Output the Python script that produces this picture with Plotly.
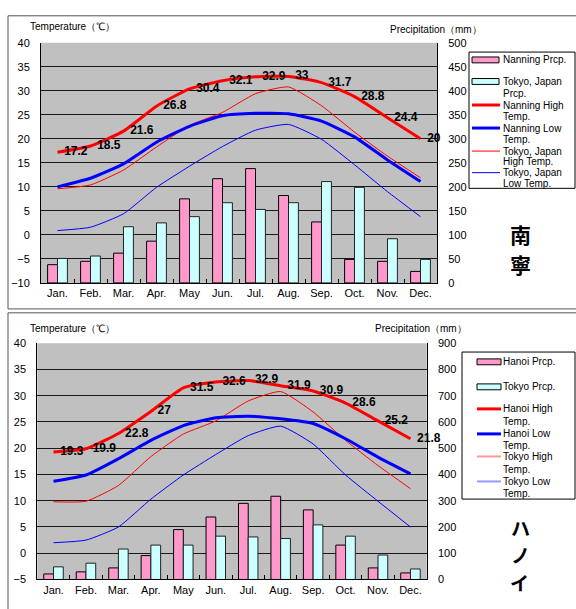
import plotly.graph_objects as go

W, H = 576, 609

months = ["Jan.", "Feb.", "Mar.", "Apr.", "May", "Jun.", "Jul.", "Aug.", "Sep.", "Oct.", "Nov.", "Dec."]

# Panel 1: Nanning vs Tokyo
nanning_high = [17.2, 18.5, 21.6, 26.8, 30.4, 32.1, 32.9, 33.0, 31.7, 28.8, 24.4, 20.0]
nanning_low = [10.0, 11.8, 14.8, 19.3, 22.6, 24.8, 25.3, 25.2, 23.7, 20.4, 15.6, 11.1]
tokyo_high_1 = [9.6, 10.4, 13.5, 18.3, 22.8, 25.5, 29.4, 30.8, 26.9, 21.4, 16.4, 11.9]
tokyo_low_1 = [0.9, 1.6, 4.4, 9.9, 14.3, 18.4, 21.8, 23.0, 19.9, 14.6, 9.0, 3.8]
nanning_prcp = [38, 45, 62, 87, 175, 217, 238, 182, 127, 49, 45, 24]
tokyo_prcp_1 = [51, 56, 117, 125, 138, 167, 153, 167, 211, 199, 92, 49]

# Panel 2: Hanoi vs Tokyo
hanoi_high = [19.3, 19.9, 22.8, 27.0, 31.5, 32.6, 32.9, 31.9, 30.9, 28.6, 25.2, 21.8]
hanoi_low = [13.7, 14.9, 18.0, 21.5, 24.3, 25.8, 26.1, 25.6, 24.7, 21.8, 18.3, 15.1]
tokyo_high_2 = [9.8, 9.9, 12.9, 18.4, 22.7, 25.2, 29.0, 30.8, 26.9, 21.5, 16.7, 12.3]
tokyo_low_2 = [2.0, 2.5, 5.0, 10.3, 14.9, 18.8, 22.4, 24.2, 20.8, 14.9, 9.9, 5.0]
hanoi_prcp = [21, 29, 44, 91, 190, 238, 290, 317, 265, 131, 44, 25]
tokyo_prcp_2 = [48, 62, 116, 131, 131, 165, 162, 156, 208, 165, 93, 40]

PINK = "#FF99CC"
CYAN = "#CCFFFF"
RED = "#FF0000"
BLUE = "#0000FF"
FONT = "Liberation Sans, Arial, sans-serif"
CJK = "Noto Sans CJK JP, sans-serif"


def px(x):
    return x / W


def py(y):
    return 1 - y / H


fig = go.Figure()

# ---- bars (on precipitation axes) ----
fig.add_trace(go.Bar(x=months, y=nanning_prcp, xaxis="x", yaxis="y",
                     marker=dict(color=PINK, line=dict(color="#000000", width=1)), showlegend=False))
fig.add_trace(go.Bar(x=months, y=tokyo_prcp_1, xaxis="x", yaxis="y",
                     marker=dict(color=CYAN, line=dict(color="#222222", width=1)), showlegend=False))
fig.add_trace(go.Bar(x=months, y=hanoi_prcp, xaxis="x2", yaxis="y3",
                     marker=dict(color=PINK, line=dict(color="#000000", width=1)), showlegend=False))
fig.add_trace(go.Bar(x=months, y=tokyo_prcp_2, xaxis="x2", yaxis="y3",
                     marker=dict(color=CYAN, line=dict(color="#222222", width=1)), showlegend=False))


def line(x_ax, y_ax, vals, color, width, labels=False):
    if labels:
        kw = dict(mode="lines+text", texttemplate="  %{y}", textposition="middle right",
                  textfont=dict(family=FONT, size=12, color="#000000", weight="bold"),
                  cliponaxis=False)
    else:
        kw = dict(mode="lines")
    fig.add_trace(go.Scatter(x=months, y=vals, xaxis=x_ax, yaxis=y_ax,
                             line=dict(color=color, width=width, shape="spline", smoothing=0.5),
                             showlegend=False, **kw))


line("x", "y2", tokyo_low_1, BLUE, 1)
line("x", "y2", tokyo_high_1, RED, 1)
line("x", "y2", nanning_low, BLUE, 3)
line("x", "y2", nanning_high, RED, 3, labels=True)

line("x2", "y4", tokyo_low_2, BLUE, 1)
line("x2", "y4", tokyo_high_2, RED, 1)
line("x2", "y4", hanoi_low, BLUE, 3)
line("x2", "y4", hanoi_high, RED, 3, labels=True)

# ---- axes ----
p1x = [px(41), px(437)]
p1y = [py(282.5), py(37.5)]
p2x = [px(37.3), px(426.7)]
p2y = [py(585), py(344)]

tickfont = dict(family=FONT, size=11, color="#000000")

xcommon = dict(type="category", range=[-0.5, 11.5], showline=True, linecolor="#000000", linewidth=1,
               ticks="inside", tickson="boundaries", ticklen=4, tickcolor="#000000",
               showgrid=False, tickfont=tickfont, fixedrange=True)

fig.update_layout(
    xaxis=dict(domain=p1x, anchor="y", **xcommon),
    yaxis=dict(domain=p1y, anchor="x", side="right", range=[0, 500], dtick=50, tick0=0,
               showline=True, linecolor="#000000", showgrid=True, gridcolor="#1a1a1a", gridwidth=1,
               zeroline=False, ticks="", tickfont=tickfont, ticklabelstandoff=8),
    yaxis2=dict(overlaying="y", anchor="x", side="left", range=[-10, 40], dtick=5, tick0=-10,
                showline=True, linecolor="#000000", showgrid=False, zeroline=False, ticks="",
                tickfont=tickfont, ticklabelstandoff=8),
    xaxis2=dict(domain=p2x, anchor="y3", **xcommon),
    yaxis3=dict(domain=p2y, anchor="x2", side="right", range=[0, 900], dtick=100, tick0=0,
                showline=True, linecolor="#000000", showgrid=True, gridcolor="#1a1a1a", gridwidth=1,
                zeroline=False, ticks="", tickfont=tickfont, ticklabelstandoff=8),
    yaxis4=dict(overlaying="y3", anchor="x2", side="left", range=[-5, 40], dtick=5, tick0=-5,
                showline=True, linecolor="#000000", showgrid=False, zeroline=False, ticks="",
                tickfont=tickfont, ticklabelstandoff=8),
    barmode="group", bargap=0.4, bargroupgap=0,
    plot_bgcolor="#C0C0C0", paper_bgcolor="#FFFFFF",
    width=W, height=H, margin=dict(l=0, r=0, t=0, b=0),
    showlegend=False,
)

shapes = []
annotations = []

# outer frames
shapes.append(dict(type="rect", xref="paper", yref="paper", x0=px(8), x1=px(590), y0=py(309), y1=py(10),
                   line=dict(color="#555555", width=1), fillcolor="rgba(0,0,0,0)", layer="below"))
shapes.append(dict(type="rect", xref="paper", yref="paper", x0=px(8), x1=px(590), y0=py(620), y1=py(313),
                   line=dict(color="#555555", width=1), fillcolor="rgba(0,0,0,0)", layer="below"))


def text(x, y, s, size=10, anchor="left", family=FONT, bold=False, color="#000000"):
    annotations.append(dict(xref="paper", yref="paper", x=px(x), y=py(y), text=s, showarrow=False,
                            xanchor=anchor, yanchor="middle", borderpad=0,
                            font=dict(family=family, size=size, color=color,
                                      weight="bold" if bold else "normal")))


# axis titles
text(29, 21, "Temperature（℃）", size=10)
text(389, 24, "Precipitation（mm）", size=10)
text(29, 329, "Temperature（℃）", size=10)
text(374, 329, "Precipitation（mm）", size=10)

# big city names (vertical, one character per row)
text(520, 232.5, "南", size=21, anchor="center", family=CJK, bold=True)
text(520, 263.5, "寧", size=21, anchor="center", family=CJK, bold=True)
text(520, 532, "ハ", size=19, anchor="center", family=CJK, bold=True)
text(520, 560, "ノ", size=19, anchor="center", family=CJK, bold=True)
text(519, 588, "イ", size=19, anchor="center", family=CJK, bold=True)


# legends
def legend_box(x0, y0, x1, y1):
    shapes.append(dict(type="rect", xref="paper", yref="paper", x0=px(x0), x1=px(x1), y0=py(y1), y1=py(y0),
                       line=dict(color="#000000", width=1), fillcolor="#FFFFFF", layer="above"))


def leg_rect(x0, x1, yc, fill):
    shapes.append(dict(type="rect", xref="paper", yref="paper", x0=px(x0), x1=px(x1), y0=py(yc + 3),
                       y1=py(yc - 3), line=dict(color="#000000", width=1), fillcolor=fill, layer="above"))


def leg_line(x0, x1, yc, color, width):
    shapes.append(dict(type="line", xref="paper", yref="paper", x0=px(x0), x1=px(x1), y0=py(yc),
                       y1=py(yc), line=dict(color=color, width=width), layer="above"))


legend_box(469, 47, 575, 186)
leg_rect(472, 499, 55, PINK)
text(502, 55, "Nanning Prcp.")
leg_rect(472, 499, 77, CYAN)
text(502, 77, "Tokyo, Japan")
text(502, 89.5, "Prcp.")
leg_line(472, 500, 101, RED, 3)
text(502, 101, "Nanning High")
text(502, 113, "Temp.")
leg_line(472, 500, 124.5, BLUE, 3)
text(502, 124.5, "Nanning Low")
text(502, 136.5, "Temp.")
leg_line(472, 500, 148, RED, 1)
text(502, 148, "Tokyo, Japan")
text(502, 159, "High Temp.")
leg_line(472, 500, 170, BLUE, 1)
text(502, 170, "Tokyo, Japan")
text(502, 181, "Low Temp.")

legend_box(462, 353, 575, 503)
leg_rect(477, 501, 363, PINK)
text(502, 363, "Hanoi Prcp.")
leg_rect(477, 501, 388.5, CYAN)
text(502, 388.5, "Tokyo Prcp.")
leg_line(477, 501, 411, RED, 3)
text(502, 411, "Hanoi High")
text(502, 423.5, "Temp.")
leg_line(477, 501, 436.5, BLUE, 3)
text(502, 436.5, "Hanoi Low")
text(502, 448.5, "Temp.")
leg_line(477, 501, 459.5, "#FF9999", 2)
text(502, 459.5, "Tokyo High")
text(502, 472.5, "Temp.")
leg_line(477, 501, 485, "#9999FF", 2)
text(502, 485, "Tokyo Low")
text(502, 497, "Temp.")

fig.update_layout(shapes=shapes, annotations=annotations)

fig.write_html("out.html", config={"displayModeBar": False},
               post_script="document.body.style.margin='0';document.body.style.overflow='hidden';")
